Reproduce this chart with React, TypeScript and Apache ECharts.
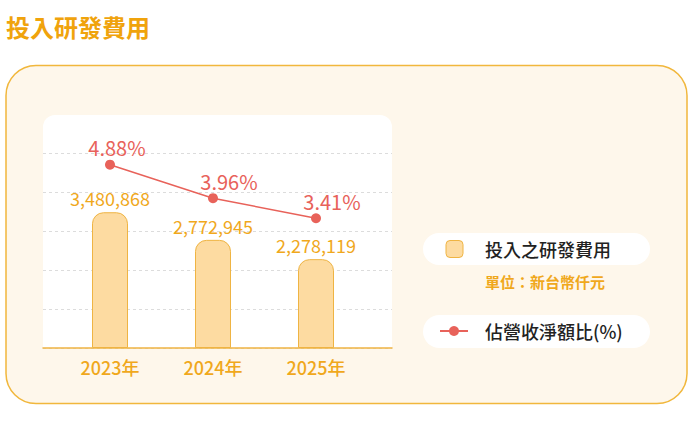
import { useEffect, useRef } from 'react';
import * as echarts from 'echarts';

const YEARS = ['2023年', '2024年', '2025年'];
const RD_EXPENSE = [3480868, 2772945, 2278119];
const RD_RATIO = [4.88, 3.96, 3.41];

const TITLE = '投入研發費用';
const LEGEND_BAR = '投入之研發費用';
const LEGEND_UNIT = '單位：新台幣仟元';
const LEGEND_LINE = '佔營收淨額比(%)';

const FONT = '"Noto Sans CJK TC", "Noto Sans", sans-serif';
const ORANGE = '#f0a81c';
const BAR_FILL = '#fddba1';
const BAR_EDGE = '#efb443';
const RED = '#e8625a';
const LINE_LABEL_DX = [7, 16, 16];

export default function App() {
  const ref = useRef<HTMLDivElement>(null);

  useEffect(() => {
    if (!ref.current) return;
    const chart = echarts.init(ref.current, null, { renderer: 'svg' });
    chart.setOption({
      animation: false,
      textStyle: { fontFamily: FONT },
      graphic: [
        {
          type: 'text',
          left: 6,
          top: 14,
          style: { text: TITLE, fill: '#f0a30c', font: `bold 24px ${FONT}` },
        },
        {
          type: 'rect',
          z: -10,
          shape: { x: 6, y: 65.5, width: 681, height: 338, r: 30 },
          style: { fill: '#fef7eb', stroke: '#f1b73c', lineWidth: 1.5 },
        },
        {
          type: 'rect',
          z: -9,
          shape: { x: 43, y: 115, width: 349, height: 233, r: [12, 12, 0, 0] },
          style: { fill: '#ffffff' },
        },
        {
          type: 'rect',
          shape: { x: 423, y: 233, width: 227, height: 32, r: 16 },
          style: { fill: '#ffffff' },
        },
        {
          type: 'rect',
          shape: { x: 446, y: 240.5, width: 17, height: 17, r: 4 },
          style: { fill: BAR_FILL, stroke: BAR_EDGE, lineWidth: 1 },
        },
        {
          type: 'text',
          x: 485,
          y: 249,
          style: { text: LEGEND_BAR, fill: '#222', font: `500 18px ${FONT}`, verticalAlign: 'middle' },
        },
        {
          type: 'text',
          x: 485,
          y: 281,
          style: { text: LEGEND_UNIT, fill: ORANGE, font: `bold 15px ${FONT}`, verticalAlign: 'middle' },
        },
        {
          type: 'rect',
          shape: { x: 423, y: 315, width: 227, height: 33, r: 16.5 },
          style: { fill: '#ffffff' },
        },
        {
          type: 'line',
          shape: { x1: 440, y1: 331, x2: 468, y2: 331 },
          style: { stroke: RED, lineWidth: 2 },
        },
        {
          type: 'circle',
          shape: { cx: 454, cy: 331, r: 5 },
          style: { fill: RED },
        },
        {
          type: 'text',
          x: 485,
          y: 331,
          style: { text: LEGEND_LINE, fill: '#222', font: `500 18px ${FONT}`, verticalAlign: 'middle' },
        },
      ],
      grid: [
        { left: 43, width: 349, top: 153, height: 195 },
        { left: 58.5, width: 309, top: 153, height: 195 },
      ],
      xAxis: [
        {
          type: 'value',
          gridIndex: 0,
          min: 0,
          max: 1,
          axisLine: { show: true, lineStyle: { color: BAR_EDGE, width: 1.5 } },
          axisTick: { show: false },
          axisLabel: { show: false },
          splitLine: { show: false },
        },
        {
          type: 'category',
          gridIndex: 1,
          data: YEARS,
          axisLine: { show: false },
          axisTick: { show: false },
          axisLabel: { color: ORANGE, fontSize: 18, fontWeight: 500, margin: 10, fontFamily: FONT },
        },
      ],
      yAxis: [
        {
          type: 'value',
          gridIndex: 0,
          min: 0,
          max: 5,
          interval: 1,
          axisLine: { show: false },
          axisTick: { show: false },
          axisLabel: { show: false },
          splitLine: { lineStyle: { color: '#dcdcdc', type: [3, 3] } },
        },
        {
          type: 'value',
          gridIndex: 1,
          min: 0,
          max: 5000000,
          interval: 1000000,
          show: false,
          splitLine: { show: false },
        },
        {
          type: 'value',
          gridIndex: 1,
          min: -0.15,
          max: 5.2,
          show: false,
          splitLine: { show: false },
        },
      ],
      series: [
        {
          type: 'bar',
          xAxisIndex: 1,
          yAxisIndex: 1,
          data: RD_EXPENSE,
          barWidth: 36,
          itemStyle: { color: BAR_FILL, borderColor: BAR_EDGE, borderWidth: 1, borderRadius: [11, 11, 0, 0] },
          label: {
            show: true,
            position: 'top',
            distance: 5,
            color: ORANGE,
            fontSize: 18,
            fontFamily: FONT,
            formatter: (p: any) => Number(p.value).toLocaleString('en-US'),
          },
        },
        {
          type: 'line',
          xAxisIndex: 1,
          yAxisIndex: 2,
          data: RD_RATIO.map((v, i) => ({
            value: v,
            label: { offset: [LINE_LABEL_DX[i], 0] },
          })),
          symbol: 'circle',
          symbolSize: 10,
          lineStyle: { color: RED, width: 1.5 },
          itemStyle: { color: RED },
          label: {
            show: true,
            position: 'top',
            distance: 2,
            color: RED,
            fontSize: 20,
            fontFamily: FONT,
            formatter: (p: any) => `${p.value.toFixed(2)}%`,
          },
        },
      ],
    });
    return () => chart.dispose();
  }, []);

  return <div ref={ref} style={{ position: 'absolute', left: 0, top: 0, width: 698, height: 421 }} />;
}
